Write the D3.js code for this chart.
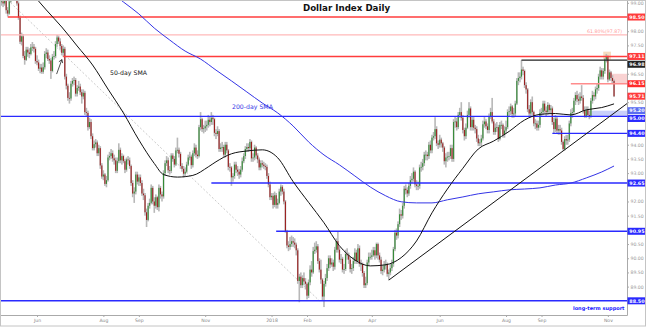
<!DOCTYPE html>
<html>
<head>
<meta charset="utf-8">
<script src="https://cdn.jsdelivr.net/npm/d3@7"></script>
<style>
  body { margin: 0; background: #fff; }
  svg { display: block; font-family: "DejaVu Sans", Verdana, sans-serif; }
</style>
</head>
<body>
<div id="chart"></div>
<script>
// one value per trading day (Mon-Fri), 28 Apr 2017 .. 7 Nov 2018
var closes = [99.04,
  99.05,98.98,99.18,98.74,98.62,99.05,99.63,99.60,99.72,99.20,98.98,98.48,97.63,97.82,97.13,96.99,97.35,97.25,97.20,97.43,97.45,97.38,96.95,
  96.90,96.68,96.72,96.57,96.73,97.20,97.25,97.02,96.97,96.60,97.10,97.12,97.55,97.78,97.64,97.48,97.24,97.38,96.40,96.08,95.65,95.63,
  96.15,96.25,96.28,95.80,96.00,96.05,95.85,95.70,95.83,95.15,95.12,94.62,94.80,94.30,93.88,94.02,94.08,93.70,93.88,93.27,92.88,
  92.95,92.62,92.75,93.55,93.60,93.70,93.52,93.45,93.08,93.42,93.82,93.45,93.60,93.42,93.12,93.48,93.45,93.25,92.65,92.28,92.35,92.95,92.70,
  92.85,92.65,92.28,92.22,91.62,91.35,91.85,91.95,92.48,92.00,91.85,92.15,91.80,92.48,92.25,92.18,93.00,93.35,93.45,93.10,93.08,
  93.62,93.50,93.30,93.80,93.82,93.68,93.25,93.15,92.98,93.05,93.30,93.55,93.58,93.28,93.70,93.90,93.65,93.60,94.62,94.90,94.55,94.58,
  94.65,94.70,94.88,94.80,94.95,94.90,94.42,94.38,94.48,93.85,93.90,93.92,93.65,94.00,93.80,93.22,93.20,92.85,92.90,93.30,93.12,93.05,
  92.95,93.12,93.42,93.60,93.85,93.92,93.88,94.10,93.52,93.55,93.90,93.62,93.48,93.20,93.35,93.30,93.25,93.22,92.90,92.60,92.15,
  92.20,91.88,92.22,91.88,91.95,92.35,92.52,92.35,92.00,90.95,90.45,90.40,90.50,90.60,90.55,90.48,90.28,89.20,89.35,89.05,89.30,89.18,89.10,
  88.68,89.15,89.60,89.50,90.25,90.30,90.42,89.90,89.60,89.25,88.65,89.10,89.30,89.65,90.00,89.78,89.85,89.70,90.30,90.60,
  90.30,89.95,89.98,89.60,89.62,90.15,90.10,89.95,89.62,89.65,89.90,90.20,89.90,90.35,89.80,89.80,89.48,89.05,89.12,89.85,90.05,90.05,
  90.10,90.28,90.10,90.50,90.10,89.95,89.55,89.60,89.75,89.80,89.45,89.50,89.65,89.80,90.32,90.90,90.80,91.20,91.55,91.50,91.85,
  92.45,92.40,92.28,92.55,92.75,92.80,93.05,92.60,92.55,92.55,93.20,93.22,93.35,93.65,93.65,93.60,94.00,93.80,94.25,94.30,94.55,94.05,94.00,
  94.18,94.05,93.90,93.42,93.55,93.58,93.60,93.88,93.50,94.80,94.82,94.62,95.05,95.15,94.95,94.52,94.30,94.60,95.05,95.28,94.62,
  94.88,94.60,94.55,94.22,94.05,94.08,94.22,94.72,94.82,94.65,94.52,94.98,95.15,94.82,94.45,94.60,94.62,94.20,94.70,94.70,94.35,94.50,
  94.62,95.15,95.18,95.35,95.08,95.10,95.45,96.25,96.35,96.40,96.65,96.60,96.10,95.95,95.25,95.10,95.50,95.15,94.75,94.75,94.60,94.70,95.12,
  95.15,95.45,95.20,95.15,95.40,95.22,95.28,94.80,94.55,94.92,94.50,94.55,94.50,94.10,93.85,94.20,94.15,94.18,94.75,95.12,
  95.15,95.55,95.75,95.60,95.55,95.70,95.65,95.20,95.00,95.22,95.05,94.98,95.55,95.75,95.70,95.95,96.00,96.40,96.62,96.40,96.60,97.00,97.12,
  96.30,96.55,96.35,96.25,95.71];

var highs = [99.20,
  99.25,99.15,99.30,99.25,98.85,99.15,99.70,99.80,99.90,99.80,99.30,99.05,98.55,97.95,97.90,97.30,97.45,97.45,97.40,97.55,97.62,97.55,97.45,
  97.15,97.00,96.85,96.85,96.90,97.30,97.40,97.35,97.15,97.05,97.20,97.30,97.65,97.87,97.85,97.75,97.55,97.50,97.45,96.50,96.15,95.85,
  96.25,96.35,96.40,96.35,96.10,96.25,96.15,95.95,95.95,95.90,95.30,95.20,94.95,94.90,94.40,94.15,94.20,94.15,94.00,93.95,93.35,
  93.10,93.00,92.90,93.65,93.75,93.85,93.80,93.65,93.55,93.55,94.05,93.90,93.70,93.65,93.50,93.55,93.60,93.55,93.30,92.75,92.50,93.05,93.05,
  92.95,92.95,92.75,92.45,92.30,91.75,91.95,92.10,92.60,92.55,92.15,92.25,92.20,92.60,92.55,92.35,93.10,93.45,93.60,93.55,93.25,
  93.70,93.70,93.60,93.90,94.25,93.90,93.75,93.35,93.25,93.20,93.40,93.65,93.75,93.65,93.80,94.05,94.00,93.80,94.70,95.15,94.95,94.70,
  94.85,94.85,95.05,95.00,95.15,95.05,94.95,94.55,94.65,94.55,94.05,94.10,94.00,94.10,94.10,93.85,93.35,93.25,93.00,93.40,93.40,93.25,
  93.15,93.25,93.55,93.70,93.95,94.05,94.05,94.20,94.15,93.70,94.00,93.95,93.70,93.55,93.45,93.45,93.40,93.35,93.30,93.00,92.70,
  92.30,92.30,92.35,92.30,92.10,92.45,92.60,92.58,92.45,92.05,91.00,90.60,90.75,90.80,90.75,90.70,90.55,90.35,89.45,89.50,89.40,89.50,89.30,
  89.15,89.25,89.75,89.90,90.40,90.55,90.60,90.50,90.00,89.95,89.30,89.20,89.45,89.80,90.10,90.10,90.00,89.95,90.40,90.70,
  90.93,90.40,90.15,90.05,89.80,90.30,90.35,90.20,90.05,89.80,90.05,90.35,90.30,90.50,90.45,89.95,89.85,89.55,89.35,89.95,90.20,90.20,
  90.30,90.40,90.40,90.55,90.55,90.20,90.05,89.75,89.90,89.95,89.85,89.60,89.80,89.95,90.40,91.00,91.05,91.30,91.75,91.70,91.95,
  92.55,92.60,92.50,92.65,92.90,93.00,93.20,93.10,92.75,92.70,93.30,93.40,93.50,93.75,93.80,93.75,94.10,94.15,94.35,94.45,94.97,94.65,94.15,
  94.35,94.25,94.10,93.95,93.70,93.75,93.75,94.00,94.00,94.90,95.00,94.95,95.15,95.30,95.50,95.05,94.60,94.75,95.20,95.50,95.35,
  95.00,95.00,94.70,94.65,94.35,94.20,94.35,94.85,95.00,94.90,94.75,95.10,95.30,95.65,94.90,94.75,94.80,94.70,94.80,94.85,94.75,94.65,
  94.85,95.25,95.35,95.45,95.40,95.30,95.55,96.35,96.55,96.55,96.98,96.75,96.65,96.20,96.00,95.40,95.60,95.70,95.20,94.90,94.85,94.85,95.25,
  95.30,95.55,95.55,95.35,95.50,95.45,95.40,95.35,94.95,95.05,95.00,94.70,94.70,94.60,94.15,94.30,94.35,94.35,94.85,95.25,
  95.30,95.65,95.85,95.90,95.80,95.85,96.10,95.75,95.35,95.35,95.35,95.20,95.65,95.90,95.85,96.05,96.15,96.50,96.75,96.70,96.70,97.05,97.20,
  97.15,96.65,96.60,96.45,96.30];

var lows = [98.90,
  98.90,98.85,98.90,98.62,98.52,98.58,99.00,99.50,99.50,99.10,98.90,98.40,97.55,97.50,97.05,96.82,96.95,97.10,97.05,97.15,97.30,97.25,96.85,
  96.80,96.60,96.52,96.50,96.50,96.65,97.05,96.95,96.85,96.32,96.55,97.00,97.05,97.45,97.55,97.35,97.15,97.10,96.30,95.95,95.55,95.45,
  95.55,96.05,96.10,95.70,95.70,95.90,95.75,95.45,95.60,95.05,95.00,94.50,94.55,94.20,93.80,93.80,93.90,93.60,93.60,93.15,92.80,
  92.75,92.55,92.50,92.70,93.45,93.50,93.40,93.30,93.00,93.00,93.35,93.35,93.30,93.35,93.00,93.05,93.30,93.15,92.55,92.15,91.95,92.25,92.60,
  92.55,92.55,92.20,92.05,91.50,91.10,91.30,91.75,91.90,91.90,91.60,91.75,91.70,91.65,92.10,92.00,92.10,92.90,93.25,93.00,92.95,
  93.00,93.40,93.20,93.25,93.70,93.55,93.15,93.05,92.85,92.90,93.00,93.25,93.45,93.15,93.20,93.60,93.55,93.50,93.55,94.50,94.45,94.40,
  94.45,94.50,94.60,94.65,94.70,94.70,94.30,94.20,94.30,93.75,93.75,93.75,93.55,93.55,93.70,93.10,93.05,92.55,92.70,92.80,93.00,92.90,
  92.80,92.85,93.05,93.35,93.50,93.75,93.75,93.80,93.40,93.40,93.45,93.50,93.35,93.10,93.10,93.20,93.15,93.10,92.80,92.50,92.05,
  92.05,91.75,91.80,91.75,91.75,91.90,92.20,92.25,91.90,90.90,90.35,90.25,90.30,90.40,90.40,90.35,90.10,89.10,88.45,88.95,88.95,89.05,88.90,
  88.55,88.60,89.05,89.35,89.45,90.15,90.20,89.80,89.50,89.10,88.50,88.28,89.00,89.20,89.55,89.65,89.70,89.55,89.60,90.20,
  90.20,89.85,89.80,89.50,89.45,89.55,89.95,89.80,89.50,89.45,89.55,89.80,89.80,89.80,89.70,89.55,89.35,88.95,88.95,89.05,89.75,89.95,
  89.95,90.05,89.95,90.00,89.95,89.85,89.45,89.40,89.50,89.60,89.35,89.23,89.40,89.55,89.70,90.25,90.65,90.70,91.10,91.35,91.40,
  91.75,92.25,92.15,92.20,92.45,92.65,92.70,92.50,92.40,92.40,92.45,93.05,93.10,93.25,93.45,93.45,93.50,93.70,93.70,94.15,94.20,93.95,93.85,
  93.90,93.90,93.75,93.30,93.20,93.40,93.45,93.50,93.40,93.40,94.60,94.50,94.55,94.95,94.85,94.40,94.15,94.20,94.55,94.95,94.50,
  94.50,94.50,94.40,94.10,93.95,93.95,93.95,94.15,94.60,94.55,94.40,94.40,94.90,94.75,94.35,94.35,94.45,94.10,94.15,94.55,94.25,94.25,
  94.40,94.55,95.00,95.05,94.95,94.95,95.00,95.40,96.10,96.20,96.30,96.45,96.00,95.80,95.15,94.95,95.00,95.05,94.65,94.55,94.50,94.50,94.60,
  95.00,95.05,95.10,95.00,95.05,95.10,95.10,94.70,94.40,94.45,94.40,94.35,94.35,94.00,93.80,93.80,94.00,94.00,94.10,94.65,
  94.95,95.05,95.40,95.50,95.40,95.45,95.55,95.10,94.95,94.95,95.00,94.90,94.95,95.45,95.55,95.60,95.80,95.90,96.30,96.30,96.30,96.50,96.90,
  96.20,96.25,96.25,96.15,95.68];

// moving averages: [trading-day index, value]
var sma50 = [[20,99.38],[30,98.75],[40,98.15],[50,97.48],[60,96.81],[70,95.96],[80,95.12],[90,94.17],
  [100,93.34],[106,92.95],[115,92.86],[125,92.92],[135,93.22],[140,93.40],[150,93.68],[160,93.78],[170,93.82],
  [180,93.54],[190,92.70],[200,91.97],[210,91.25],[220,90.44],[230,89.94],[240,89.73],[250,89.77],[260,90.02],
  [270,90.61],[280,91.60],[290,92.44],[300,93.17],[310,93.85],[320,94.13],[330,94.47],[340,94.87],[350,95.07],
  [360,95.10],[370,95.05],[380,95.23],[390,95.31],[398,95.44]];
var sma200 = [[75,99.24],[80,99.03],[90,98.61],[100,98.11],[110,97.69],[120,97.30],[130,97.02],[140,96.63],
  [150,96.25],[160,95.86],[170,95.47],[180,95.12],[190,94.66],[200,94.10],[210,93.64],[220,93.29],[230,92.90],
  [240,92.51],[250,92.20],[260,91.99],[270,91.95],[280,91.95],[290,92.06],[300,92.16],[310,92.27],[320,92.34],
  [330,92.41],[340,92.44],[350,92.48],[360,92.58],[370,92.65],[380,92.83],[390,93.04],[398,93.25]];

// horizontal levels: value, first trading-day index, kind
var levels = [
  {value: 98.50, from: 5,   kind: "red"},
  {value: 97.11, from: 41,  kind: "red"},
  {value: 96.98, from: 338, kind: "black"},
  {value: 96.15, from: 370, kind: "lightred"},
  {value: 95.20, from: 380, kind: "band"},
  {value: 95.00, from: 0,   kind: "blue"},
  {value: 94.40, from: 358, kind: "blue"},
  {value: 92.65, from: 137, kind: "blue"},
  {value: 90.95, from: 179, kind: "blue"},
  {value: 88.50, from: 0,   kind: "blue"}
];
var fibLevel = {value: 97.87, label: "61.80%(97.87)"};
var lastPrice = 95.71;

// trend lines [index, value]
var trendUp = [[252, 89.23], [406.4, 95.45]];
var trendDown = [[5, 99.1], [207, 88.5]];

var yTicks = [88.5,89,89.5,90,90.5,91,91.5,92,92.5,93,93.5,94,94.5,95,95.5,96,96.5,97,97.5,98,98.5,99];
var monthTicks = [["2017-06","Jun"],["2017-08","Aug"],["2017-09","Sep"],["2017-11","Nov"],["2018-01","2018"],
  ["2018-02","Feb"],["2018-04","Apr"],["2018-06","Jun"],["2018-08","Aug"],["2018-09","Sep"],["2018-11","Nov"]];

var W = 646, H = 327, PW = 627, PH = 315;

// trading days
var days = [];
for (var d = new Date(2017, 3, 28); days.length < closes.length; d.setDate(d.getDate() + 1)) {
  if (d.getDay() !== 0 && d.getDay() !== 6) days.push(new Date(d));
}
var fmtMonth = d3.timeFormat("%Y-%m");

var x = d3.scaleLinear().domain([0, 406.4]).range([0, PW]);
var y = d3.scaleLinear().domain([88.0, 99.1]).range([PH, 0]);

var colors = {red: "#ff3c3c", lightred: "#ff8c8c", black: "#222", blue: "#2a2aff", band: "#5a6cf0"};

var svg = d3.select("#chart").append("svg").attr("width", W).attr("height", H);
svg.append("rect").attr("width", W).attr("height", H).attr("fill", "#fff");
svg.append("defs").append("clipPath").attr("id", "plotClip")
  .append("rect").attr("width", PW).attr("height", PH);

var g = svg.append("g").attr("clip-path", "url(#plotClip)");

// shaded zones
g.append("rect").attr("x", x(391)).attr("width", x(396) - x(391))
  .attr("y", y(97.28)).attr("height", y(97.0) - y(97.28)).attr("fill", "#f6dcc0");
g.append("rect").attr("x", x(396)).attr("width", PW - x(396))
  .attr("y", y(96.5)).attr("height", y(96.15) - y(96.5)).attr("fill", "#f9d2d2");
g.append("rect").attr("x", x(380)).attr("width", PW - x(380))
  .attr("y", y(95.2)).attr("height", y(95.0) - y(95.2)).attr("fill", "#c9d0fa");

// dotted falling trend line
g.append("line")
  .attr("x1", x(trendDown[0][0])).attr("y1", y(trendDown[0][1]))
  .attr("x2", x(trendDown[1][0])).attr("y2", y(trendDown[1][1]))
  .attr("stroke", "#bdbdbd").attr("stroke-width", 0.8).attr("stroke-dasharray", "2,2");

// candles
var candles = closes.map(function(c, i) {
  var o = i ? closes[i - 1] : 99.0;
  return {i: i, o: o, c: c,
    h: Math.max(highs[i] || c, o, c),
    l: Math.min(lows[i] || c, o, c)};
});
g.selectAll(".wick").data(candles).enter().append("rect")
  .attr("x", function(d) { return x(d.i) - 0.8; })
  .attr("width", 1.6)
  .attr("y", function(d) { return y(d.h); })
  .attr("height", function(d) { return y(d.l) - y(d.h); })
  .attr("fill", "#b8b8b8");
g.selectAll(".body").data(candles).enter().append("rect")
  .attr("x", function(d) { return x(d.i) - 0.55; })
  .attr("width", 1.1)
  .attr("y", function(d) { return y(Math.max(d.o, d.c)); })
  .attr("height", function(d) { return Math.max(0.8, Math.abs(y(d.o) - y(d.c))); })
  .attr("fill", function(d) { return d.c >= d.o ? "#348a36" : "#9a1f1f"; });

// levels
g.append("line").attr("x1", 0).attr("x2", PW)
  .attr("y1", y(fibLevel.value)).attr("y2", y(fibLevel.value))
  .attr("stroke", "#ffb9b9").attr("stroke-width", 1.4);
levels.forEach(function(l) {
  if (l.kind === "band") return;
  g.append("line").attr("x1", x(l.from)).attr("x2", PW)
    .attr("y1", y(l.value)).attr("y2", y(l.value))
    .attr("stroke", colors[l.kind]).attr("stroke-width", 1.4);
});

// moving averages
var smaLine = d3.line().x(function(d) { return x(d[0]); }).y(function(d) { return y(d[1]); })
  .curve(d3.curveMonotoneX);
g.append("path").attr("d", smaLine(sma200)).attr("fill", "none")
  .attr("stroke", "#3434e6").attr("stroke-width", 1);
g.append("path").attr("d", smaLine(sma50)).attr("fill", "none")
  .attr("stroke", "#111").attr("stroke-width", 1);

// rising trend line
g.append("line")
  .attr("x1", x(trendUp[0][0])).attr("y1", y(trendUp[0][1]))
  .attr("x2", x(trendUp[1][0])).attr("y2", y(trendUp[1][1]))
  .attr("stroke", "#111").attr("stroke-width", 1);

// arrow
var ax1 = x(36.7), ay1 = y(96.49), ax2 = x(40.1), ay2 = y(97.0);
g.append("line").attr("x1", ax1).attr("y1", ay1).attr("x2", ax2).attr("y2", ay2)
  .attr("stroke", "#222").attr("stroke-width", 0.8);
g.append("path").attr("d", "M" + (ax2 - 3) + "," + (ay2 + 2.2) + "L" + ax2 + "," + ay2 + "L" + (ax2 + 0.8) + "," + (ay2 + 3.5))
  .attr("fill", "none").attr("stroke", "#222").attr("stroke-width", 0.8);

// annotations
g.append("text").attr("x", 110).attr("y", 75).attr("font-size", 6.2).attr("fill", "#111").text("50-day SMA");
g.append("text").attr("x", 232).attr("y", 109).attr("font-size", 6.2).attr("fill", "#3434e6").text("200-day SMA");
g.append("text").attr("x", 622).attr("y", y(fibLevel.value) - 1.8).attr("text-anchor", "end")
  .attr("font-size", 4.7).attr("fill", "#ff9c9c").text(fibLevel.label);
g.append("text").attr("x", 624.5).attr("y", 310).attr("text-anchor", "end")
  .attr("font-size", 5).attr("font-weight", "bold").attr("fill", "#2020ff").text("long-term support");

// title
svg.append("text").attr("x", 346.5).attr("y", 10.5).attr("text-anchor", "middle")
  .attr("font-size", 8.7).attr("font-weight", "bold").attr("fill", "#111").text("Dollar Index Daily");

// value boxes on the right (stacked so they never overlap)
var boxes = levels.map(function(l) { return {value: l.value, kind: l.kind}; });
boxes.push({value: lastPrice, kind: "red"});
boxes.sort(function(a, b) { return b.value - a.value; });
var bh = 7, prevBottom = -100;
boxes.forEach(function(b) {
  var top = y(b.value) - bh / 2;
  if (top < prevBottom + 0.8) top = prevBottom + 0.8;
  b.top = top; prevBottom = top + bh;
});

// axes; tick labels hidden behind a value box are left out
var shownTicks = yTicks.filter(function(t) {
  return boxes.every(function(b) { return Math.abs(y(t) - (b.top + bh / 2)) > 5.6; });
});
var yAxis = d3.axisRight(y).tickValues(shownTicks).tickFormat(d3.format(".2f"))
  .tickSize(2).tickSizeOuter(0).tickPadding(1.5);
var ya = svg.append("g").attr("transform", "translate(" + PW + ",0)").call(yAxis);
ya.select(".domain").attr("stroke", "#aaa");
ya.selectAll(".tick line").attr("stroke", "#aaa");
ya.selectAll(".tick text").attr("fill", "#999").attr("font-size", 4.6).attr("font-family", "DejaVu Sans");

var tickIdx = monthTicks.map(function(m) {
  for (var i = 0; i < days.length; i++) if (fmtMonth(days[i]) === m[0]) return i;
  return -1;
});
var xAxis = d3.axisBottom(x).tickValues(tickIdx)
  .tickFormat(function(d, i) { return monthTicks[i][1]; })
  .tickSize(2).tickSizeOuter(0).tickPadding(2);
var xa = svg.append("g").attr("transform", "translate(0," + PH + ")").call(xAxis);
xa.select(".domain").attr("stroke", "#aaa");
xa.selectAll(".tick line").attr("stroke", "#aaa");
xa.selectAll(".tick text").attr("fill", "#888").attr("font-size", 4.6).attr("font-family", "DejaVu Sans");

var bx = svg.append("g");
bx.selectAll("rect").data(boxes).enter().append("rect")
  .attr("x", PW + 0.5).attr("width", W - PW - 0.5)
  .attr("y", function(d) { return d.top; }).attr("height", bh)
  .attr("fill", function(d) { return d.kind === "lightred" ? "#ff2b2b" : colors[d.kind]; });
bx.selectAll("text").data(boxes).enter().append("text")
  .attr("x", PW + 2.3).attr("y", function(d) { return d.top + bh / 2 + 1.7; })
  .attr("font-size", 4.8).attr("font-weight", "bold").attr("fill", "#fff")
  .text(function(d) { return d.value.toFixed(2); });

// frame
svg.append("rect").attr("x", 0.5).attr("y", 0.5).attr("width", W - 1).attr("height", H - 1.5)
  .attr("fill", "none").attr("stroke", "#c4c4c4");
</script>
</body>
</html>
